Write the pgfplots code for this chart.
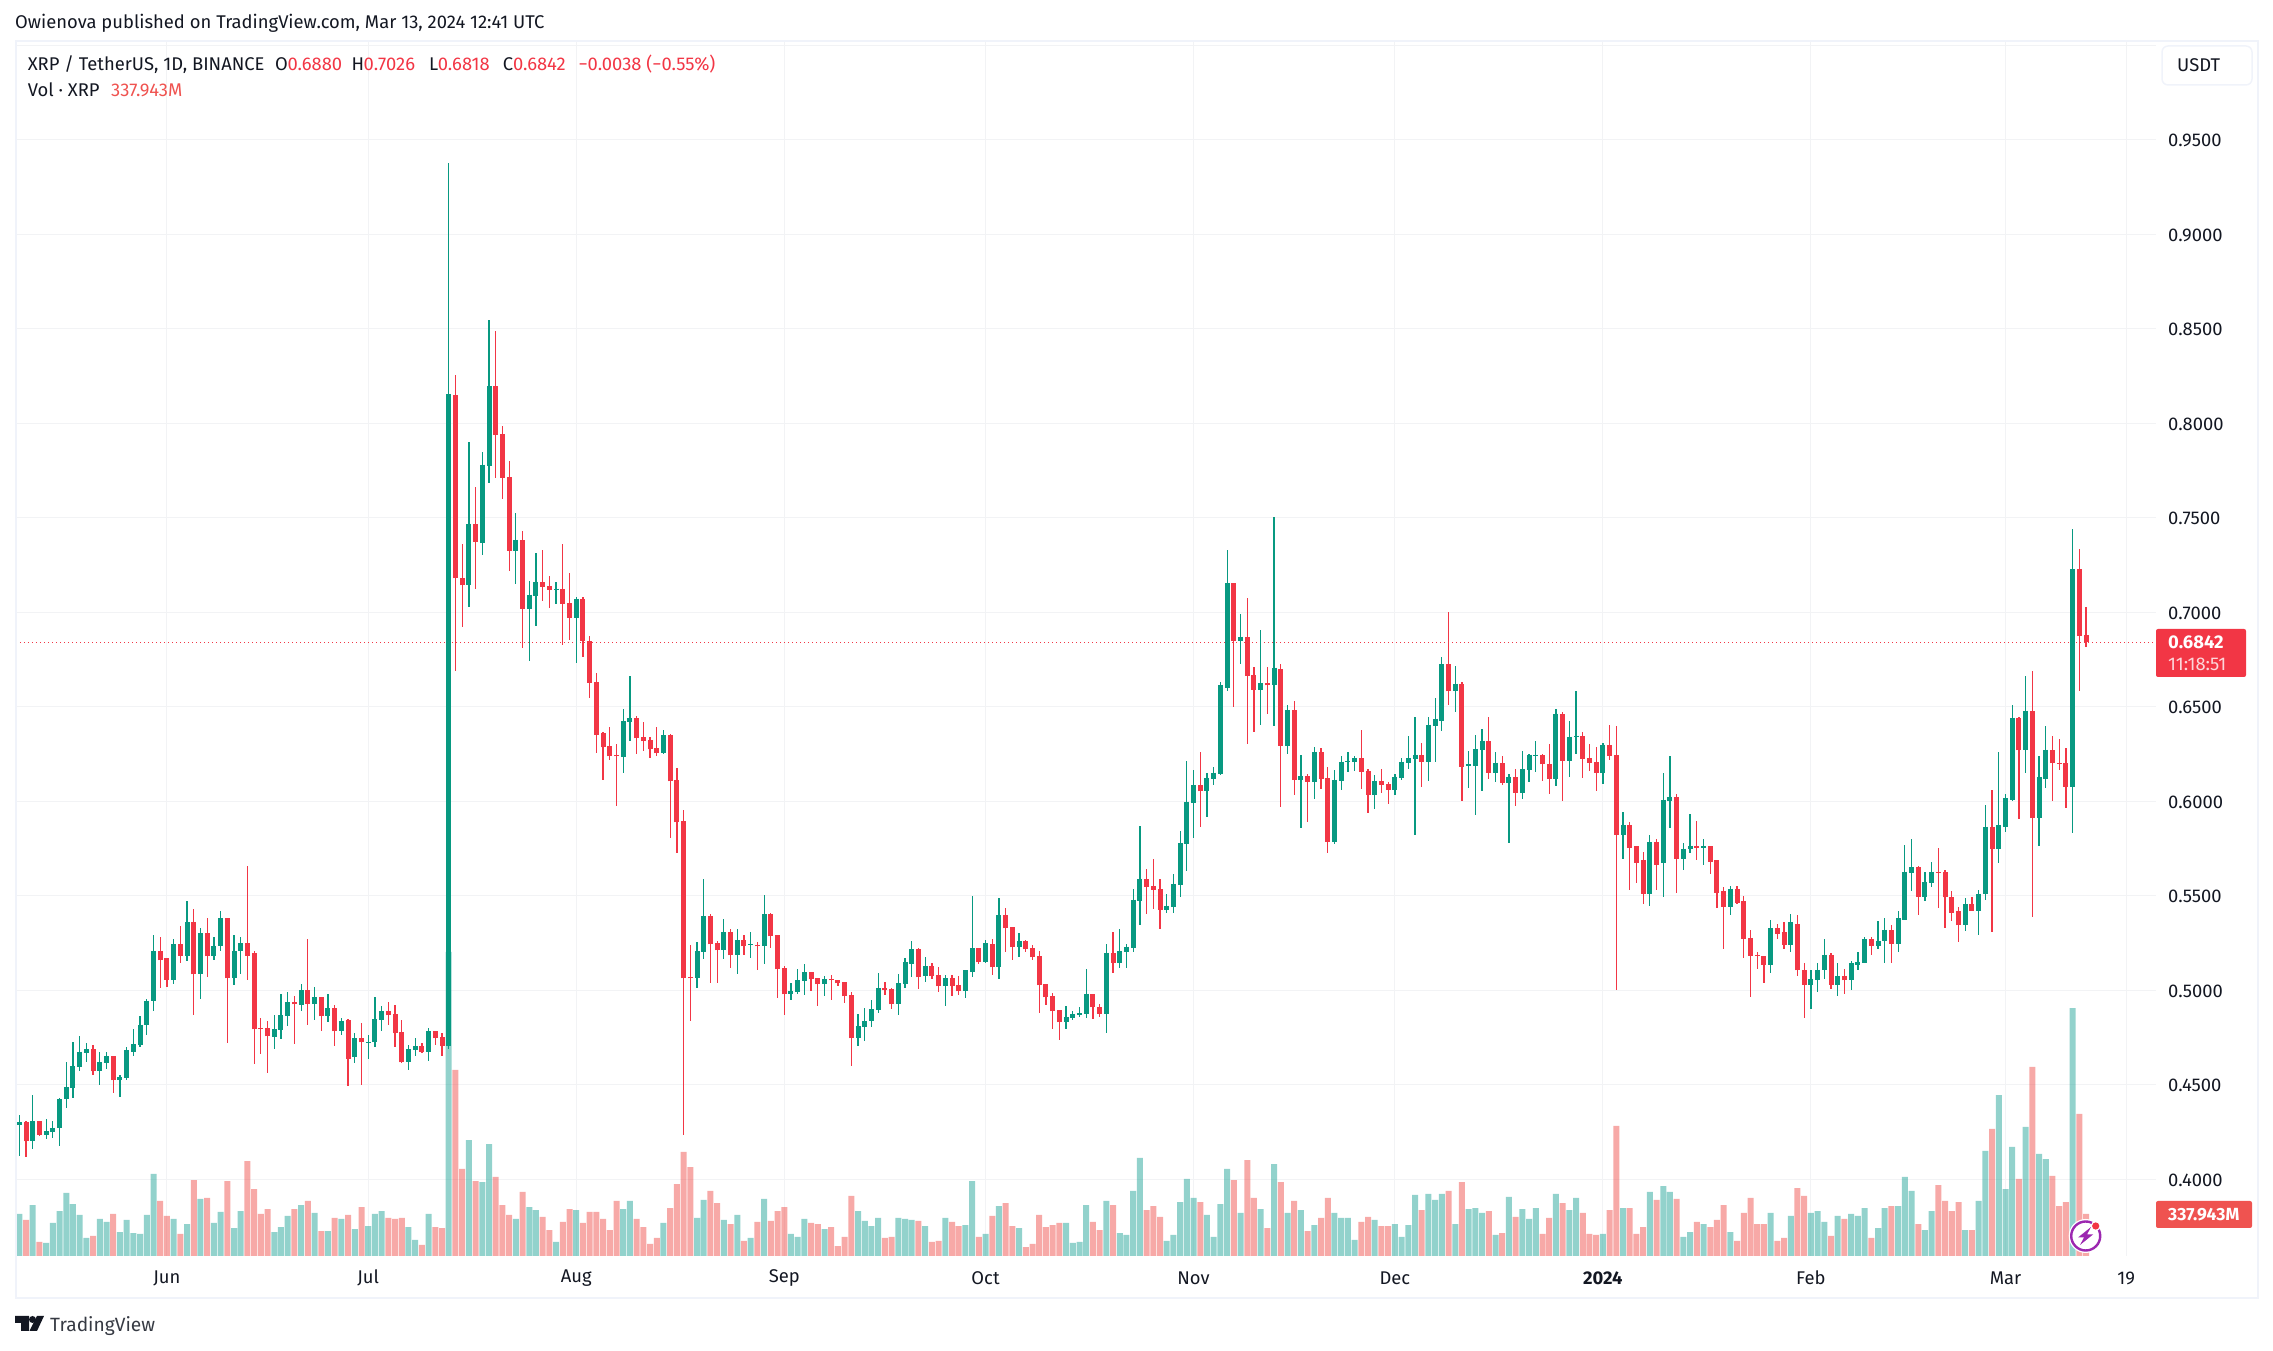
\documentclass[border=0pt]{standalone}
\usepackage{fontspec}
\setmainfont{Fira Sans}
\usepackage{pgfplots}
\usepackage{pgfplotstable}
\pgfplotsset{compat=1.18}
\definecolor{tvg}{HTML}{089981}
\definecolor{tvr}{HTML}{F23645}
\definecolor{volg}{HTML}{26A69A}
\definecolor{volr}{HTML}{EF5350}
\definecolor{txt}{HTML}{131722}
\definecolor{gridc}{HTML}{F2F3F5}
\definecolor{framec}{HTML}{F0F3FA}
\definecolor{purp}{HTML}{9C27B0}
\definecolor{cdown}{HTML}{FCD6DA}
% i open high low close volume(M)
\pgfplotstableread{
i o h l c v
0 0.4285 0.4338 0.4123 0.4301 338
2 0.4200 0.4444 0.4160 0.4306 410
4 0.4237 0.4317 0.4211 0.4253 105
5 0.4248 0.4306 0.4216 0.4274 266
6 0.4269 0.4428 0.4174 0.4423 362
7 0.4423 0.4618 0.4375 0.4486 507
8 0.4481 0.4729 0.4428 0.4597 418
9 0.4592 0.4756 0.4571 0.4676 330
10 0.4666 0.4719 0.4618 0.4687 145
12 0.4571 0.4671 0.4497 0.4618 298
13 0.4613 0.4671 0.4581 0.4650 274
15 0.4523 0.4550 0.4433 0.4539 193
16 0.4534 0.4698 0.4523 0.4682 290
17 0.4676 0.4793 0.4650 0.4714 185
18 0.4708 0.4862 0.4698 0.4819 177
19 0.4814 0.4952 0.4761 0.4946 330
20 0.4941 0.5290 0.4893 0.5206 660
23 0.5057 0.5269 0.5031 0.5243 298
25 0.5184 0.5470 0.5153 0.5359 257
27 0.5084 0.5327 0.4952 0.5301 459
29 0.5179 0.5280 0.5158 0.5237 266
30 0.5232 0.5417 0.5206 0.5380 354
32 0.5063 0.5290 0.5026 0.5206 225
33 0.5206 0.5280 0.5084 0.5248 362
38 0.4751 0.4867 0.4692 0.4793 193
39 0.4788 0.4978 0.4740 0.4867 233
40 0.4862 0.4989 0.4809 0.4936 322
42 0.4920 0.5031 0.4893 0.4999 410
44 0.4930 0.5020 0.4841 0.4962 346
46 0.4862 0.4978 0.4830 0.4904 201
48 0.4782 0.4851 0.4761 0.4835 298
50 0.4645 0.4772 0.4613 0.4745 217
52 0.4724 0.4761 0.4639 0.4728 241
53 0.4724 0.4962 0.4698 0.4846 338
54 0.4841 0.4915 0.4782 0.4888 362
58 0.4618 0.4708 0.4576 0.4687 233
59 0.4682 0.4745 0.4650 0.4703 129
61 0.4676 0.4798 0.4624 0.4782 338
64 0.4703 0.9379 0.4692 0.8156 2446
67 0.7143 0.7902 0.7026 0.7469 933
69 0.7368 0.7850 0.7305 0.7781 595
70 0.7775 0.8548 0.7686 0.8198 901
74 0.7326 0.7526 0.7151 0.7384 298
76 0.7018 0.7168 0.6744 0.7093 394
77 0.7087 0.7315 0.6929 0.7162 370
80 0.7119 0.7162 0.7046 0.7125 113
83 0.6971 0.7083 0.6732 0.7072 370
90 0.6232 0.6486 0.6148 0.6423 378
91 0.6417 0.6664 0.6317 0.6439 443
96 0.6253 0.6375 0.6248 0.6349 266
101 0.5063 0.5253 0.5010 0.5206 306
102 0.5201 0.5587 0.5163 0.5391 451
105 0.5211 0.5375 0.5163 0.5306 290
107 0.5185 0.5322 0.5084 0.5264 330
109 0.5238 0.5306 0.5169 0.5243 145
111 0.5232 0.5502 0.5137 0.5402 459
115 0.4978 0.5037 0.4947 0.4994 177
116 0.4989 0.5111 0.4978 0.5052 153
117 0.5047 0.5137 0.4973 0.5095 298
120 0.5031 0.5074 0.4968 0.5058 217
125 0.4745 0.4872 0.4703 0.4809 362
126 0.4804 0.4904 0.4730 0.4835 282
127 0.4835 0.4947 0.4804 0.4899 241
128 0.4894 0.5089 0.4878 0.5010 306
131 0.4925 0.5084 0.4867 0.5037 306
132 0.5031 0.5169 0.5010 0.5148 298
133 0.5137 0.5259 0.5068 0.5216 290
135 0.5074 0.5174 0.5042 0.5126 241
138 0.5021 0.5079 0.4915 0.5063 306
141 0.4994 0.5105 0.4957 0.5105 249
142 0.5095 0.5497 0.5068 0.5222 603
144 0.5148 0.5264 0.5142 0.5248 177
146 0.5121 0.5486 0.5058 0.5396 402
149 0.5227 0.5301 0.5174 0.5259 225
156 0.4830 0.4915 0.4793 0.4857 266
157 0.4851 0.4888 0.4841 0.4872 105
158 0.4867 0.4910 0.4857 0.4878 113
159 0.4872 0.5114 0.4855 0.4982 410
162 0.4876 0.5246 0.4772 0.5199 443
164 0.5145 0.5325 0.5116 0.5208 185
165 0.5203 0.5246 0.5119 0.5231 169
166 0.5225 0.5537 0.5205 0.5480 523
167 0.5474 0.5871 0.5346 0.5591 789
171 0.5426 0.5511 0.5411 0.5448 121
172 0.5442 0.5617 0.5411 0.5563 169
173 0.5558 0.5844 0.5494 0.5780 434
174 0.5775 0.6215 0.5632 0.5998 620
175 0.5992 0.6167 0.5806 0.6087 467
177 0.6052 0.6152 0.5918 0.6124 330
178 0.6120 0.6184 0.6087 0.6152 153
179 0.6146 0.6631 0.6141 0.6613 418
180 0.6601 0.7328 0.6585 0.7153 700
182 0.6850 0.6993 0.6728 0.6871 346
185 0.6590 0.6904 0.6406 0.6627 378
187 0.6613 0.7502 0.6401 0.6707 740
189 0.6295 0.6507 0.6252 0.6484 346
191 0.6115 0.6247 0.5860 0.6135 370
193 0.6104 0.6289 0.6014 0.6263 249
196 0.5786 0.6167 0.5775 0.6115 346
197 0.6109 0.6241 0.6061 0.6210 306
198 0.6210 0.6263 0.6157 0.6215 306
199 0.6210 0.6241 0.6161 0.6230 129
202 0.6035 0.6141 0.5961 0.6109 290
205 0.6061 0.6146 0.6035 0.6130 257
206 0.6124 0.6230 0.6115 0.6210 153
207 0.6204 0.6347 0.6172 0.6230 249
208 0.6226 0.6444 0.5823 0.6247 491
210 0.6210 0.6444 0.6109 0.6406 499
211 0.6401 0.6549 0.6210 0.6438 451
212 0.6427 0.6761 0.6373 0.6724 499
214 0.6581 0.6718 0.6470 0.6622 257
216 0.6189 0.6267 0.6072 0.6195 378
217 0.6189 0.6353 0.5929 0.6278 386
218 0.6273 0.6384 0.6055 0.6321 346
220 0.6152 0.6263 0.6104 0.6204 169
222 0.6098 0.6146 0.5780 0.6130 475
224 0.6046 0.6267 0.6014 0.6172 378
225 0.6167 0.6252 0.6104 0.6247 298
226 0.6241 0.6321 0.6157 0.6247 386
229 0.6120 0.6490 0.6083 0.6464 499
231 0.6215 0.6427 0.6130 0.6341 370
232 0.6341 0.6585 0.6252 0.6347 467
236 0.6152 0.6311 0.6089 0.6300 177
239 0.5824 0.5941 0.5697 0.5872 386
243 0.5512 0.5824 0.5448 0.5782 515
245 0.5671 0.6152 0.5491 0.6009 563
246 0.6004 0.6242 0.5861 0.6025 515
248 0.5697 0.5777 0.5634 0.5750 153
249 0.5745 0.5935 0.5724 0.5766 193
251 0.5755 0.5803 0.5665 0.5761 257
255 0.5443 0.5554 0.5396 0.5538 193
261 0.5136 0.5374 0.5089 0.5327 346
264 0.5242 0.5406 0.5200 0.5359 322
267 0.5030 0.5110 0.4903 0.5062 346
268 0.5057 0.5147 0.4993 0.5110 362
269 0.5105 0.5274 0.5062 0.5189 274
271 0.5030 0.5147 0.4972 0.5073 322
273 0.5052 0.5157 0.4999 0.5142 338
274 0.5136 0.5205 0.5105 0.5152 322
275 0.5147 0.5284 0.5147 0.5269 386
277 0.5237 0.5364 0.5221 0.5263 225
278 0.5263 0.5385 0.5147 0.5321 386
280 0.5247 0.5422 0.5205 0.5380 402
281 0.5374 0.5771 0.5374 0.5628 636
282 0.5623 0.5798 0.5528 0.5650 523
284 0.5496 0.5628 0.5475 0.5575 209
285 0.5570 0.5681 0.5544 0.5628 362
290 0.5343 0.5486 0.5316 0.5454 209
292 0.5422 0.5533 0.5290 0.5512 443
293 0.5507 0.5978 0.5480 0.5866 845
295 0.5750 0.6263 0.5671 0.5872 1295
296 0.5866 0.6036 0.5835 0.6015 539
297 0.6009 0.6507 0.5999 0.6443 877
299 0.6269 0.6665 0.6152 0.6480 1038
301 0.5914 0.6242 0.5761 0.6126 821
302 0.6120 0.6396 0.6068 0.6274 780
306 0.6075 0.7441 0.5832 0.7229 1995
}\greencandles
\pgfplotstableread{
i o h l c v
1 0.4301 0.4306 0.4117 0.4200 290
3 0.4306 0.4306 0.4227 0.4237 113
11 0.4687 0.4708 0.4550 0.4571 161
14 0.4650 0.4650 0.4454 0.4523 338
21 0.5206 0.5280 0.5010 0.5158 443
22 0.5169 0.5169 0.5015 0.5057 322
24 0.5243 0.5338 0.5142 0.5184 177
26 0.5359 0.5428 0.4867 0.5084 611
28 0.5301 0.5385 0.5068 0.5179 467
31 0.5380 0.5385 0.4719 0.5063 603
34 0.5248 0.5655 0.5052 0.5184 764
35 0.5195 0.5206 0.4608 0.4793 539
36 0.4803 0.4856 0.4661 0.4798 338
37 0.4798 0.4835 0.4560 0.4756 378
41 0.4936 0.4968 0.4714 0.4925 378
43 0.4999 0.5269 0.4819 0.4930 443
45 0.4962 0.4962 0.4782 0.4862 201
47 0.4904 0.4920 0.4703 0.4782 306
49 0.4841 0.4846 0.4491 0.4639 330
51 0.4745 0.4825 0.4497 0.4724 394
55 0.4888 0.4936 0.4814 0.4867 306
56 0.4872 0.4920 0.4698 0.4772 298
57 0.4777 0.4841 0.4613 0.4618 306
60 0.4703 0.4719 0.4666 0.4676 89
62 0.4782 0.4782 0.4708 0.4745 233
63 0.4751 0.4772 0.4650 0.4703 225
65 0.8152 0.8257 0.6690 0.7180 1497
66 0.7182 0.7362 0.6923 0.7143 700
68 0.7469 0.7664 0.7125 0.7374 603
71 0.8198 0.8489 0.7712 0.7939 636
72 0.7945 0.7987 0.7601 0.7712 410
73 0.7716 0.7801 0.7220 0.7326 330
75 0.7384 0.7431 0.6813 0.7018 515
78 0.7162 0.7332 0.7060 0.7135 314
79 0.7141 0.7194 0.7024 0.7119 209
81 0.7125 0.7362 0.6827 0.7046 274
82 0.7050 0.7210 0.6854 0.6971 378
84 0.7072 0.7083 0.6765 0.6850 266
85 0.6850 0.6874 0.6548 0.6627 354
86 0.6633 0.6680 0.6253 0.6352 354
87 0.6359 0.6365 0.6111 0.6285 298
88 0.6290 0.6391 0.6216 0.6238 209
89 0.6243 0.6301 0.5973 0.6238 443
92 0.6439 0.6449 0.6248 0.6333 298
93 0.6338 0.6417 0.6264 0.6317 233
94 0.6322 0.6338 0.6227 0.6275 97
95 0.6280 0.6391 0.6238 0.6253 145
97 0.6349 0.6354 0.5804 0.6105 386
98 0.6111 0.6174 0.5724 0.5888 579
99 0.5894 0.5952 0.4232 0.5063 837
100 0.5068 0.5238 0.4835 0.5063 716
103 0.5391 0.5402 0.5037 0.5243 523
104 0.5248 0.5259 0.5037 0.5211 426
106 0.5306 0.5322 0.5116 0.5185 257
108 0.5264 0.5290 0.5185 0.5232 121
110 0.5238 0.5253 0.5105 0.5232 274
112 0.5402 0.5407 0.5222 0.5285 282
113 0.5290 0.5290 0.4957 0.5111 362
114 0.5116 0.5126 0.4867 0.4978 394
118 0.5095 0.5095 0.4994 0.5058 266
119 0.5063 0.5063 0.4915 0.5031 257
121 0.5058 0.5079 0.4947 0.5052 233
122 0.5052 0.5052 0.5021 0.5037 80
123 0.5042 0.5042 0.4931 0.4968 153
124 0.4973 0.4989 0.4597 0.4745 483
129 0.5010 0.5042 0.4973 0.4999 145
130 0.5005 0.5010 0.4899 0.4925 153
134 0.5216 0.5222 0.5005 0.5068 282
136 0.5126 0.5142 0.5058 0.5074 113
137 0.5079 0.5121 0.4989 0.5021 121
139 0.5063 0.5079 0.4968 0.5021 274
140 0.5026 0.5074 0.4973 0.4994 241
143 0.5222 0.5222 0.5137 0.5148 153
145 0.5243 0.5269 0.5079 0.5121 322
147 0.5396 0.5433 0.5200 0.5328 426
148 0.5333 0.5333 0.5158 0.5227 241
150 0.5259 0.5264 0.5200 0.5216 72
151 0.5222 0.5238 0.5158 0.5174 97
152 0.5179 0.5206 0.4878 0.5026 330
153 0.5031 0.5031 0.4920 0.4962 233
154 0.4968 0.4984 0.4793 0.4888 249
155 0.4894 0.4894 0.4735 0.4830 266
160 0.4982 0.4982 0.4848 0.4909 274
161 0.4913 0.4928 0.4861 0.4876 209
163 0.5199 0.5309 0.5090 0.5145 410
168 0.5591 0.5643 0.5405 0.5548 370
169 0.5554 0.5697 0.5431 0.5532 402
170 0.5537 0.5591 0.5325 0.5426 314
176 0.6087 0.6263 0.5866 0.6052 434
181 0.7153 0.7157 0.6501 0.6850 611
183 0.6871 0.7073 0.6304 0.6665 772
184 0.6670 0.6713 0.6364 0.6590 467
186 0.6627 0.6713 0.6464 0.6613 225
188 0.6702 0.6728 0.5972 0.6295 595
190 0.6484 0.6533 0.6035 0.6115 443
192 0.6135 0.6146 0.5892 0.6104 201
194 0.6263 0.6284 0.6067 0.6120 306
195 0.6124 0.6184 0.5728 0.5786 467
200 0.6230 0.6379 0.6067 0.6157 274
201 0.6161 0.6172 0.5940 0.6035 314
203 0.6109 0.6172 0.6046 0.6087 241
204 0.6092 0.6104 0.5987 0.6061 241
209 0.6247 0.6310 0.6078 0.6210 370
213 0.6724 0.7003 0.6512 0.6581 523
215 0.6622 0.6631 0.6003 0.6184 595
219 0.6321 0.6444 0.6120 0.6152 362
221 0.6204 0.6241 0.6087 0.6098 185
223 0.6130 0.6172 0.5977 0.6046 314
227 0.6247 0.6252 0.6109 0.6195 177
228 0.6199 0.6301 0.6041 0.6120 306
230 0.6464 0.6475 0.6003 0.6215 426
233 0.6347 0.6369 0.6124 0.6226 346
234 0.6230 0.6301 0.6161 0.6204 177
235 0.6210 0.6289 0.6055 0.6152 169
237 0.6300 0.6406 0.6216 0.6242 370
238 0.6247 0.6396 0.5004 0.5824 1046
240 0.5872 0.5888 0.5533 0.5755 386
241 0.5761 0.5761 0.5570 0.5676 177
242 0.5687 0.5734 0.5459 0.5512 233
244 0.5782 0.5798 0.5533 0.5665 451
247 0.6025 0.6041 0.5517 0.5697 459
250 0.5766 0.5898 0.5692 0.5755 274
252 0.5761 0.5766 0.5613 0.5681 233
253 0.5687 0.5692 0.5433 0.5517 290
254 0.5523 0.5544 0.5221 0.5443 410
256 0.5538 0.5554 0.5454 0.5464 121
257 0.5470 0.5501 0.5173 0.5274 346
258 0.5279 0.5321 0.4967 0.5184 467
259 0.5189 0.5200 0.5115 0.5184 257
260 0.5184 0.5184 0.5041 0.5136 257
262 0.5327 0.5353 0.5269 0.5300 121
263 0.5311 0.5359 0.5216 0.5242 145
265 0.5353 0.5396 0.5073 0.5105 547
266 0.5110 0.5147 0.4856 0.5030 483
270 0.5189 0.5195 0.5009 0.5030 161
272 0.5073 0.5115 0.4983 0.5052 298
276 0.5269 0.5284 0.5189 0.5237 145
279 0.5321 0.5343 0.5147 0.5247 402
283 0.5650 0.5660 0.5396 0.5496 257
286 0.5628 0.5755 0.5433 0.5623 571
287 0.5628 0.5634 0.5332 0.5491 443
288 0.5496 0.5523 0.5369 0.5411 362
289 0.5417 0.5443 0.5253 0.5343 434
291 0.5454 0.5491 0.5422 0.5422 209
294 0.5866 0.6062 0.5306 0.5750 1022
298 0.6443 0.6448 0.5904 0.6269 620
300 0.6480 0.6687 0.5390 0.5909 1521
303 0.6274 0.6343 0.6004 0.6200 644
304 0.6205 0.6327 0.6163 0.6200 402
305 0.6200 0.6284 0.5967 0.6078 434
307 0.7229 0.7335 0.6583 0.6874 1143
308 0.6880 0.7026 0.6818 0.6842 338
}\redcandles
\pgfplotsset{
 tvaxis/.style={at={(16pt,95pt)},anchor=south west,scale only axis,width=2140pt,height=1215pt,
   xmin=-0.492,xmax=318.43,axis line style={draw=none},major tick length=0pt},
 wick/.style={draw=none,mark=none,error bars/.cd,y dir=both,y explicit,error mark=none,
   error bar style={draw=#1,line width=1.25pt,solid}},
 body/.style={draw=none,mark=none,error bars/.cd,y dir=both,y explicit,error mark=none,
   error bar style={draw=#1,line width=5pt,solid}},
}
\newcommand{\fs}{\fontsize{18.4}{22}\selectfont}
\begin{document}
\begin{tikzpicture}
\path[use as bounding box] (0pt,0pt) rectangle (2273pt,1351pt);
% grid and tick labels
\begin{axis}[tvaxis,ymin=0.35942,ymax=1.00228,
  xtick={22,52,83,114,144,175,205,236,267,296,314},
  xticklabels={Jun,Jul,Aug,Sep,Oct,Nov,Dec,\textbf{2024},Feb,Mar,19},
  ytick={0.40,0.45,0.50,0.55,0.60,0.65,0.70,0.75,0.80,0.85,0.90,0.95,1.00},
  yticklabels={0.4000,0.4500,0.5000,0.5500,0.6000,0.6500,0.7000,0.7500,0.8000,0.8500,0.9000,0.9500,{}},
  yticklabel pos=right,
  grid=major,grid style={gridc,line width=1.1pt},
  tick label style={font=\fs,text=txt},
  yticklabel style={anchor=west,inner sep=0pt,xshift=12pt,yshift=-0.8pt},
  xticklabel style={anchor=center,inner sep=0pt,yshift=-22pt},
]
\addplot[draw=none,forget plot] coordinates {(0,0.5)};
\end{axis}
% volume
\begin{axis}[tvaxis,ymin=0,ymax=9776,xtick=\empty,ytick=\empty]
\addplot[ybar,bar width=6pt,bar shift=0pt,fill=volg,draw=none,fill opacity=0.5] table[x=i,y=v] {\greencandles};
\addplot[ybar,bar width=6pt,bar shift=0pt,fill=volr,draw=none,fill opacity=0.5] table[x=i,y=v] {\redcandles};
\end{axis}
% candles
\begin{axis}[tvaxis,ymin=0.35942,ymax=1.00228,xtick=\empty,ytick=\empty]
\addplot[tvr,line width=1pt,dash pattern=on 1.3pt off 2.7pt] coordinates {(-0.492,0.6842) (318.43,0.6842)};
\addplot[wick=tvg] table[x=i,y=c,y error plus expr=\thisrow{h}-\thisrow{c},y error minus expr=\thisrow{c}-\thisrow{l}] {\greencandles};
\addplot[body=tvg] table[x=i,y=c,y error plus expr=0,y error minus expr=\thisrow{c}-\thisrow{o}] {\greencandles};
\addplot[wick=tvr] table[x=i,y=c,y error plus expr=\thisrow{h}-\thisrow{c},y error minus expr=\thisrow{c}-\thisrow{l}] {\redcandles};
\addplot[body=tvr] table[x=i,y=c,y error plus expr=\thisrow{o}-\thisrow{c},y error minus expr=0] {\redcandles};
\end{axis}
\begin{scope}[shift={(0pt,1351pt)},x=1pt,y=-1pt,every node/.style={inner sep=0pt,anchor=base west,font=\fs,text=txt}]
\draw[framec,line width=2pt] (15.5,41) rectangle (2258,1298);
\node at (15,29) {Owienova published on TradingView.com, Mar 13, 2024 12:41 UTC};
\node at (27.6,70.5) {XRP / TetherUS, 1D, BINANCE};
\node at (275,70.5) {O};
\node[text=tvr] at (287.4,70.5) {0.6880};
\node at (351.4,70.5) {H};
\node[text=tvr] at (363.5,70.5) {0.7026};
\node at (429,70.5) {L};
\node[text=tvr] at (437.7,70.5) {0.6818};
\node at (502.7,70.5) {C};
\node[text=tvr] at (512.8,70.5) {0.6842};
\node[text=tvr] at (578.3,70.5) {−0.0038 (−0.55\%)};
\node at (27.6,97) {Vol · XRP};
\node[text=volr] at (111,97) {337.943M};
% currency button
\draw[framec,fill=white,line width=1.5pt,rounded corners=6pt] (2162,46) rectangle (2252,85);
\node at (2177,71.5) {USDT};
% price label
\fill[tvr,rounded corners=2pt] (2156,629) rectangle (2246,677);
\node[text=white,font=\fs\bfseries] at (2168,649) {0.6842};
\node[text=cdown] at (2168,671) {11:18:51};
% volume label
\fill[volr,rounded corners=2pt] (2156,1201) rectangle (2252,1228);
\node[text=white,font=\fontsize{17.6}{20}\selectfont\bfseries] at (2168,1220.5) {337.943M};
% lightning icon
\fill[white] (2085.7,1236) circle (17);
\draw[fill=white,draw=purp,line width=2.4pt] (2085.7,1236) circle (14.5);
\fill[purp] (2091,1227) -- (2078,1237.5) -- (2084,1237.5) -- (2080,1245) -- (2093,1234.5) -- (2087,1234.5) -- cycle;
\fill[white] (2095.7,1226) circle (5);
\fill[tvr] (2095.7,1226) circle (3.6);
% TradingView logo
\fill[txt] (15,1316) -- (29,1316) -- (29,1331) -- (21,1331) -- (21,1323) -- (15,1323) -- cycle;
\fill[txt] (32.5,1319.5) circle (3.5);
\fill[txt] (37,1316) -- (44,1316) -- (37,1331) -- (29.5,1331) -- cycle;
\node[font=\fontsize{19.2}{24}\selectfont,text=txt!85!white] at (50,1332) {TradingView};
\end{scope}
\end{tikzpicture}
\end{document}
